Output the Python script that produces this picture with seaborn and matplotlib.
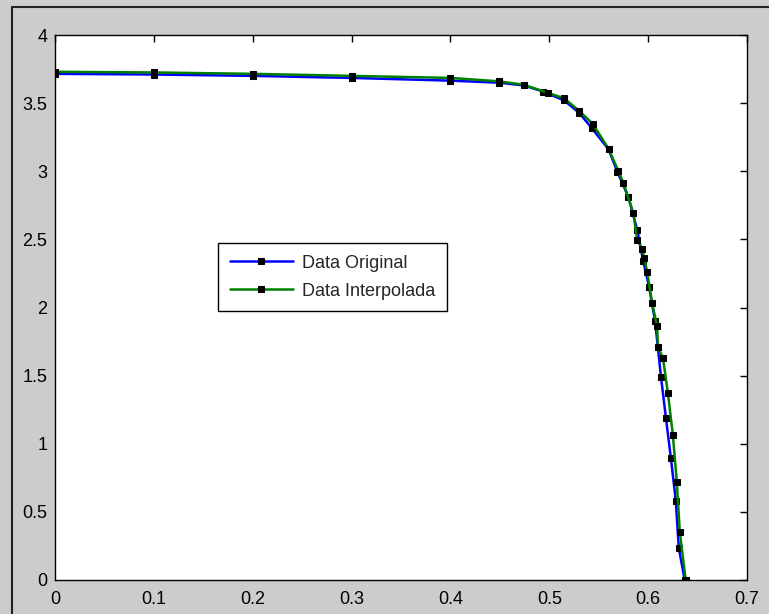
import matplotlib
matplotlib.use("Agg")
import matplotlib.pyplot as plt
from matplotlib.lines import Line2D
import seaborn as sns
import pandas as pd

# ---- data ----
orig_v = [0.0, 0.1, 0.2, 0.3, 0.4, 0.449, 0.474, 0.494, 0.515, 0.530, 0.543,
          0.560, 0.569, 0.580, 0.589, 0.595, 0.601, 0.607, 0.613, 0.618,
          0.623, 0.628, 0.631, 0.637]
orig_i = [3.715, 3.71, 3.70, 3.685, 3.665, 3.65, 3.63, 3.585, 3.52, 3.43, 3.317,
          3.16, 2.994, 2.811, 2.569, 2.341, 2.150, 1.901, 1.490, 1.189,
          0.895, 0.580, 0.235, 0.0]

interp_v = [0.0, 0.1, 0.2, 0.3, 0.4, 0.449, 0.474, 0.499, 0.515, 0.530, 0.544,
            0.560, 0.570, 0.575, 0.585, 0.589, 0.594, 0.596, 0.599, 0.604,
            0.609, 0.610, 0.615, 0.620, 0.625, 0.629, 0.632, 0.638]
interp_i = [3.73, 3.725, 3.715, 3.70, 3.685, 3.66, 3.635, 3.575, 3.535, 3.445, 3.347,
            3.165, 3.00, 2.914, 2.694, 2.495, 2.429, 2.363, 2.261, 2.033,
            1.864, 1.710, 1.629, 1.372, 1.064, 0.719, 0.352, 0.0]

x_ticks = [0, 0.1, 0.2, 0.3, 0.4, 0.5, 0.6, 0.7]
x_labels = ["0", "0.1", "0.2", "0.3", "0.4", "0.5", "0.6", "0.7"]
y_ticks = [0, 0.5, 1, 1.5, 2, 2.5, 3, 3.5, 4]
y_labels = ["0", "0.5", "1", "1.5", "2", "2.5", "3", "3.5", "4"]
series_names = ["Data Original", "Data Interpolada"]

df_orig = pd.DataFrame({"v": orig_v, "i": orig_i})
df_interp = pd.DataFrame({"v": interp_v, "i": interp_i})

sns.set_style("white")
plt.rcParams["font.family"] = ["Liberation Sans", "DejaVu Sans"]

fig = plt.figure(figsize=(7.69, 6.14), dpi=100, facecolor="#cccccc")
ax = fig.add_axes([55 / 769, 1 - 580 / 614, 692 / 769, 545 / 614])
ax.set_facecolor("white")

common = dict(marker="s", markersize=5, markerfacecolor="black",
              markeredgecolor="black", linewidth=1.8, sort=False,
              estimator=None, ax=ax)
sns.lineplot(data=df_orig, x="v", y="i", color=(0, 0, 1),
             label=series_names[0], **common)
sns.lineplot(data=df_interp, x="v", y="i", color=(0, 0.5, 0),
             label=series_names[1], **common)

ax.set_xlim(0, 0.7)
ax.set_ylim(0, 4)
ax.set_xticks(x_ticks)
ax.set_xticklabels(x_labels)
ax.set_yticks(y_ticks)
ax.set_yticklabels(y_labels)
ax.set_xlabel("")
ax.set_ylabel("")
ax.tick_params(direction="in", length=5, width=1, top=True, right=True,
               labelsize=13, colors="black")
ax.tick_params(axis="x", pad=8)
ax.tick_params(axis="y", pad=5.5)
for s in ax.spines.values():
    s.set_visible(True)
    s.set_color("black")
    s.set_linewidth(1)

leg = ax.legend(loc="upper left", bbox_to_anchor=((218 - 55) / 692, (580 - 243) / 545),
                borderaxespad=0, fancybox=False, frameon=True, fontsize=13,
                handlelength=3.5, handletextpad=0.5, labelspacing=0.6,
                borderpad=0.65)
leg.get_frame().set_edgecolor("black")
leg.get_frame().set_linewidth(1)
leg.get_frame().set_facecolor("white")
leg.get_frame().set_alpha(1)

# window border (top and left)
fig.add_artist(Line2D([12 / 769, 1], [1 - 7 / 614, 1 - 7 / 614],
                      transform=fig.transFigure, color="#222222", linewidth=1.5))
fig.add_artist(Line2D([12 / 769, 12 / 769], [0, 1 - 7 / 614],
                      transform=fig.transFigure, color="#222222", linewidth=1.5))

fig.savefig("out.png", dpi=100, facecolor=fig.get_facecolor())
